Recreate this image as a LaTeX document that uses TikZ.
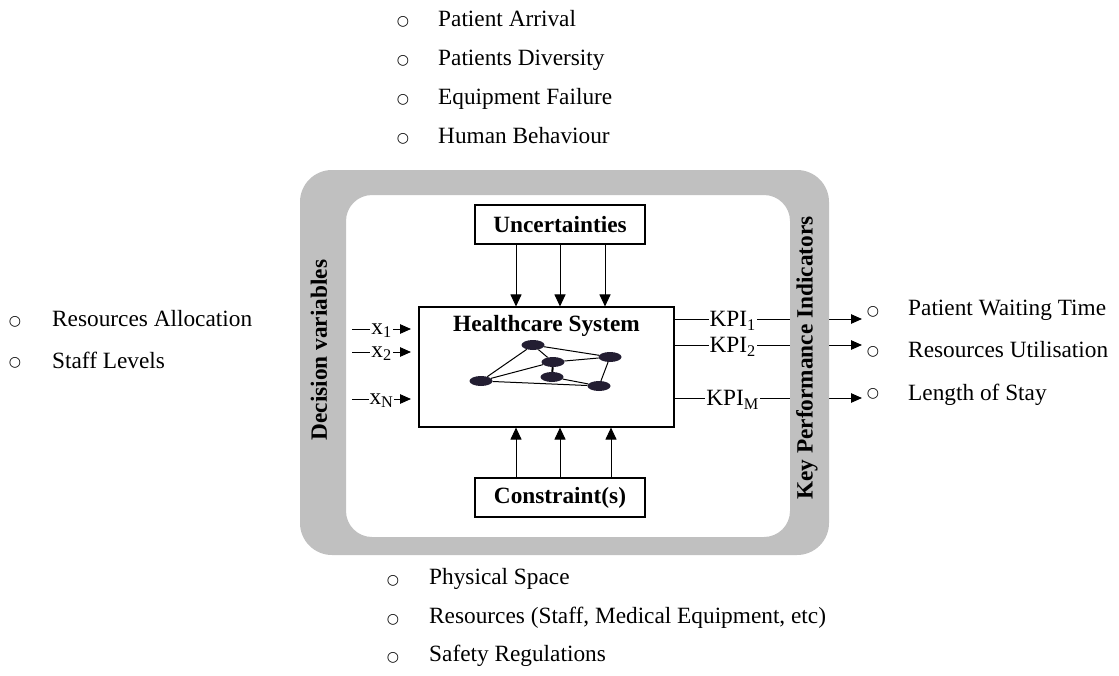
\documentclass[tikz,border=0pt]{standalone}
\usepackage{fontspec}
\setmainfont{Liberation Serif}
\newfontfamily\symbolfont{DejaVu Sans}
\usetikzlibrary{arrows.meta,shapes.geometric}
\definecolor{framegray}{RGB}{192,192,192}
\definecolor{nodeink}{RGB}{35,30,50}

\begin{document}
\begin{tikzpicture}[x=1pt,y=-1pt,
  every node/.style={font=\fontsize{23.3}{28}\selectfont},
  box/.style={draw, line width=1.1pt, inner sep=0, fill=white},
  boldtxt/.style={font=\fontsize{23.3}{28}\selectfont\bfseries},
  varrow/.style={line width=1pt, -{Triangle[length=12pt,width=11pt]}},
  harrow/.style={line width=1pt, -{Triangle[length=11pt,width=9.5pt]}},
  kpilbl/.style={fill=white, inner sep=1pt, text height=19.5pt, text depth=4pt},
  xlbl/.style={fill=white, inner sep=1pt, text height=14.5pt, text depth=4pt},
  gnode/.style={ellipse, fill=nodeink, minimum width=23pt, minimum height=10pt, inner sep=0},
  gedge/.style={line width=1pt},
  item/.style={anchor=base west, inner sep=0},
  bul/.style={anchor=center, inner sep=0, font=\symbolfont\fontsize{14}{14}\selectfont},
]
\fill[white] (0,0) rectangle (1119,675);
\useasboundingbox (0,0) rectangle (1119,675);

% ---- central blocks ----
\node[box, minimum width=170pt, minimum height=39pt] (unc) at (560,224.5) {};
\node[boldtxt] (unctxt) at (unc.center) {Uncertainties};
\node[box, minimum width=255pt, minimum height=120pt] (hs) at (546.5,367) {};
\node[boldtxt] (hstitle) at (546.5,326) {Healthcare System};
\node[box, minimum width=170pt, minimum height=39pt] (con) at (560,497.5) {};
\node[boldtxt] (contxt) at (con.center) {Constraint(s)};

% ---- small network inside the system box ----
\node[gnode] (g1) at (533,345) {};
\node[gnode] (g2) at (553,362) {};
\node[gnode] (g3) at (610,357) {};
\node[gnode] (g4) at (552,377) {};
\node[gnode] (g5) at (481,381) {};
\node[gnode] (g6) at (599,386) {};
\draw[gedge] (g5) -- (g1);
\draw[gedge] (g5) -- (g2);
\draw[gedge] (g5) -- (g6);
\draw[gedge] (g1) -- (g2);
\draw[gedge] (g1) -- (g3);
\draw[gedge] (g2) -- (g3);
\draw[gedge, line width=2pt] (g2) -- (g4);
\draw[gedge] (g4) -- (g6);
\draw[gedge] (g3) -- (g6);

% ---- uncertainty and constraint arrows ----
\coordinate (ua) at (516,0);
\coordinate (ub) at (560,0);
\coordinate (uc) at (605,0);
\coordinate (ca) at (516,0);
\coordinate (cb) at (560,0);
\coordinate (cc) at (611,0);
\draw[varrow] (unc.south -| ua) -- (hs.north -| ua);
\draw[varrow] (unc.south -| ub) -- (hs.north -| ub);
\draw[varrow] (unc.south -| uc) -- (hs.north -| uc);
\draw[varrow] (con.north -| ca) -- (hs.south -| ca);
\draw[varrow] (con.north -| cb) -- (hs.south -| cb);
\draw[varrow] (con.north -| cc) -- (hs.south -| cc);

% ---- decision variables ----
\coordinate (xs1) at (352,329);  \coordinate (xe1) at (411,329);
\coordinate (xs2) at (352,352);  \coordinate (xe2) at (411,352);
\coordinate (xsn) at (352,399);  \coordinate (xen) at (411,399);
\draw[harrow] (xs1) -- node[xlbl] {x\textsubscript{1}} (xe1);
\draw[harrow] (xs2) -- node[xlbl] {x\textsubscript{2}} (xe2);
\draw[harrow] (xsn) -- node[xlbl] {x\textsubscript{N}} (xen);

% ---- performance indicators ----
\coordinate (ke1) at (862,319);
\coordinate (ke2) at (862,345);
\coordinate (kem) at (862,398);
\draw[harrow] (hs.east |- ke1) -- node[kpilbl, pos=0.31] {KPI\textsubscript{1}} (ke1);
\draw[harrow] (hs.east |- ke2) -- node[kpilbl, pos=0.31] {KPI\textsubscript{2}} (ke2);
\draw[harrow] (hs.east |- kem) -- node[kpilbl, pos=0.31] {KPI\textsubscript{M}} (kem);

% ---- grey frame (drawn over the connector lines) ----
\fill[framegray, even odd rule] [rounded corners=32pt] (300,170) rectangle (829,555)
      [rounded corners=26pt] (346,195) rectangle (790,537);
\node[boldtxt, rotate=90] (dv) at (319,350) {Decision variables};
\node[boldtxt, rotate=90] (kpi) at (807,358) {Key Performance Indicators};

% ---- uncertainty list ----
\node[bul] (ub1) at (403,22) {○};  \node[item] (ut1) at (438,26) {Patient Arrival};
\node[bul] (ub2) at (403,61) {○};  \node[item] (ut2) at (438,65) {Patients Diversity};
\node[bul] (ub3) at (403,100) {○}; \node[item] (ut3) at (438,104) {Equipment Failure};
\node[bul] (ub4) at (403,139) {○}; \node[item] (ut4) at (438,143) {Human Behaviour};

% ---- constraint list ----
\node[bul] (cb1) at (393,581) {○}; \node[item] (ct1) at (429,584) {Physical Space};
\node[bul] (cb2) at (393,620) {○}; \node[item] (ct2) at (429,623) {Resources (Staff, Medical Equipment, etc)};
\node[bul] (cb3) at (393,658) {○}; \node[item] (ct3) at (429,661) {Safety Regulations};

% ---- decision variable list ----
\node[bul] (db1) at (15,322) {○}; \node[item] (dt1) at (52,326) {Resources Allocation};
\node[bul] (db2) at (15,363) {○}; \node[item] (dt2) at (52,368) {Staff Levels};

% ---- indicator list ----
\node[bul] (kb1) at (873,312) {○}; \node[item] (kt1) at (908,315) {Patient Waiting Time};
\node[bul] (kb2) at (873,352) {○}; \node[item] (kt2) at (908,357) {Resources Utilisation};
\node[bul] (kb3) at (873,394) {○}; \node[item] (kt3) at (908,400) {Length of Stay};
\end{tikzpicture}
\end{document}
